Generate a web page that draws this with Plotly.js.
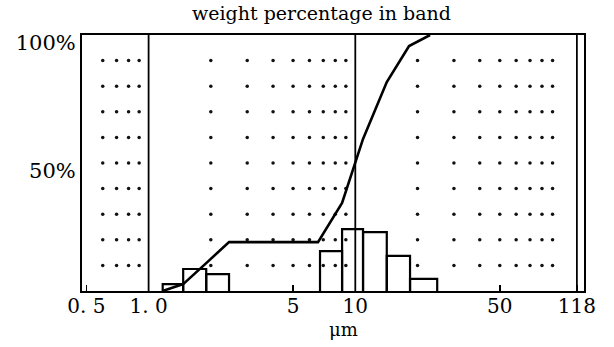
<!DOCTYPE html>
<html>
<head>
<meta charset="utf-8">
<script src="https://cdn.plot.ly/plotly-3.0.1.min.js"></script>
<style>html,body{margin:0;padding:0;background:#fff;}</style>
</head>
<body>
<div id="chart" style="width:614px;height:347px;"></div>
<script>
// Particle size bands (µm) and weight percentage in each band
const binLeft   = [1.17, 1.47, 1.90, 6.75, 8.63, 10.9, 14.2, 18.4];
const binRight  = [1.47, 1.90, 2.45, 8.63, 10.9, 14.2, 18.4, 24.9];
const binWeight = [2.7, 8.6, 6.6, 15.6, 24.2, 23.0, 13.7, 4.7];

// Cumulative weight curve (%)
const cumX = [1.17, 1.47, 1.90, 2.45, 6.60, 8.63, 10.9, 14.2, 18.2, 23.0];
const cumY = [0, 2.7, 10.9, 19.1, 19.1, 34.4, 59.4, 81.6, 95.7, 100];

// Axis ticks and labels
const xTickVals = [0.5, 1, 5, 10, 50, 118];
const xTickText = ["0. 5", "1. 0", "5", "10", "50", "118"];
const yTickVals = [50, 100];
const yTickText = ["50%", "100%"];

// Full-height divider lines
const dividerX = [1, 10, 118];

// Dotted grid positions
const dotGridX = [0.6, 0.7, 0.8, 0.9, 2, 3, 4, 5, 6, 7, 8, 9, 20, 30, 40, 50, 60, 70, 80, 90];
const dotGridY = [10, 20, 30, 40, 50, 60, 70, 80, 90];

const dotsX = [], dotsY = [];
dotGridX.forEach(function (gx) {
  dotGridY.forEach(function (gy) { dotsX.push(gx); dotsY.push(gy); });
});

const barX = [], barY = [];
for (let i = 0; i < binWeight.length; i++) {
  barX.push(binLeft[i], binLeft[i], binRight[i], binRight[i], null);
  barY.push(0, binWeight[i], binWeight[i], 0, null);
}

const serif = "DejaVu Serif, Liberation Serif, serif";

const traces = [
  { type: "scatter", mode: "markers", x: dotsX, y: dotsY,
    marker: { size: 3.5, color: "#111" }, hoverinfo: "skip", showlegend: false },
  { type: "scatter", mode: "lines", x: barX, y: barY,
    line: { color: "#000", width: 2.2 }, connectgaps: false, showlegend: false },
  { type: "scatter", mode: "lines", x: cumX, y: cumY,
    line: { color: "#000", width: 2.6 }, showlegend: false }
];

const shapes = dividerX.map(function (v) {
  return { type: "line", xref: "x", yref: "paper", x0: v, x1: v, y0: 0, y1: 1,
           line: { color: "#000", width: 1.8 } };
});

const layout = {
  width: 614, height: 347,
  margin: { l: 82, r: 30, t: 35, b: 56, pad: 0 },
  paper_bgcolor: "#fff", plot_bgcolor: "#fff",
  showlegend: false,
  title: { text: "weight percentage in band", font: { family: serif, size: 19, color: "#000" },
           xref: "container", yref: "container", x: 0.5236, y: 0.9625,
           xanchor: "center", yanchor: "middle" },
  xaxis: { type: "log", range: [-0.3222, 2.1064],
           tickvals: xTickVals, ticktext: xTickText,
           tickfont: { family: serif, size: 20, color: "#000" },
           ticks: "inside", ticklen: 6, tickcolor: "#000", tickwidth: 1.5,
           ticklabelstandoff: -4,
           showgrid: false, zeroline: false,
           showline: true, mirror: true, linecolor: "#000", linewidth: 2 },
  yaxis: { range: [0, 100],
           tickvals: yTickVals, ticktext: yTickText,
           tickfont: { family: serif, size: 21, color: "#000" },
           ticks: "", ticklabelshift: 8,
           showgrid: false, zeroline: false,
           showline: true, mirror: true, linecolor: "#000", linewidth: 2 },
  shapes: shapes,
  annotations: [
    { text: "μm", xref: "paper", yref: "paper", x: 0.52, y: -0.152,
      xanchor: "center", yanchor: "middle", showarrow: false,
      font: { family: serif, size: 18, color: "#000" } }
  ]
};

Plotly.newPlot("chart", traces, layout, { displayModeBar: false, staticPlot: true });
</script>
</body>
</html>
